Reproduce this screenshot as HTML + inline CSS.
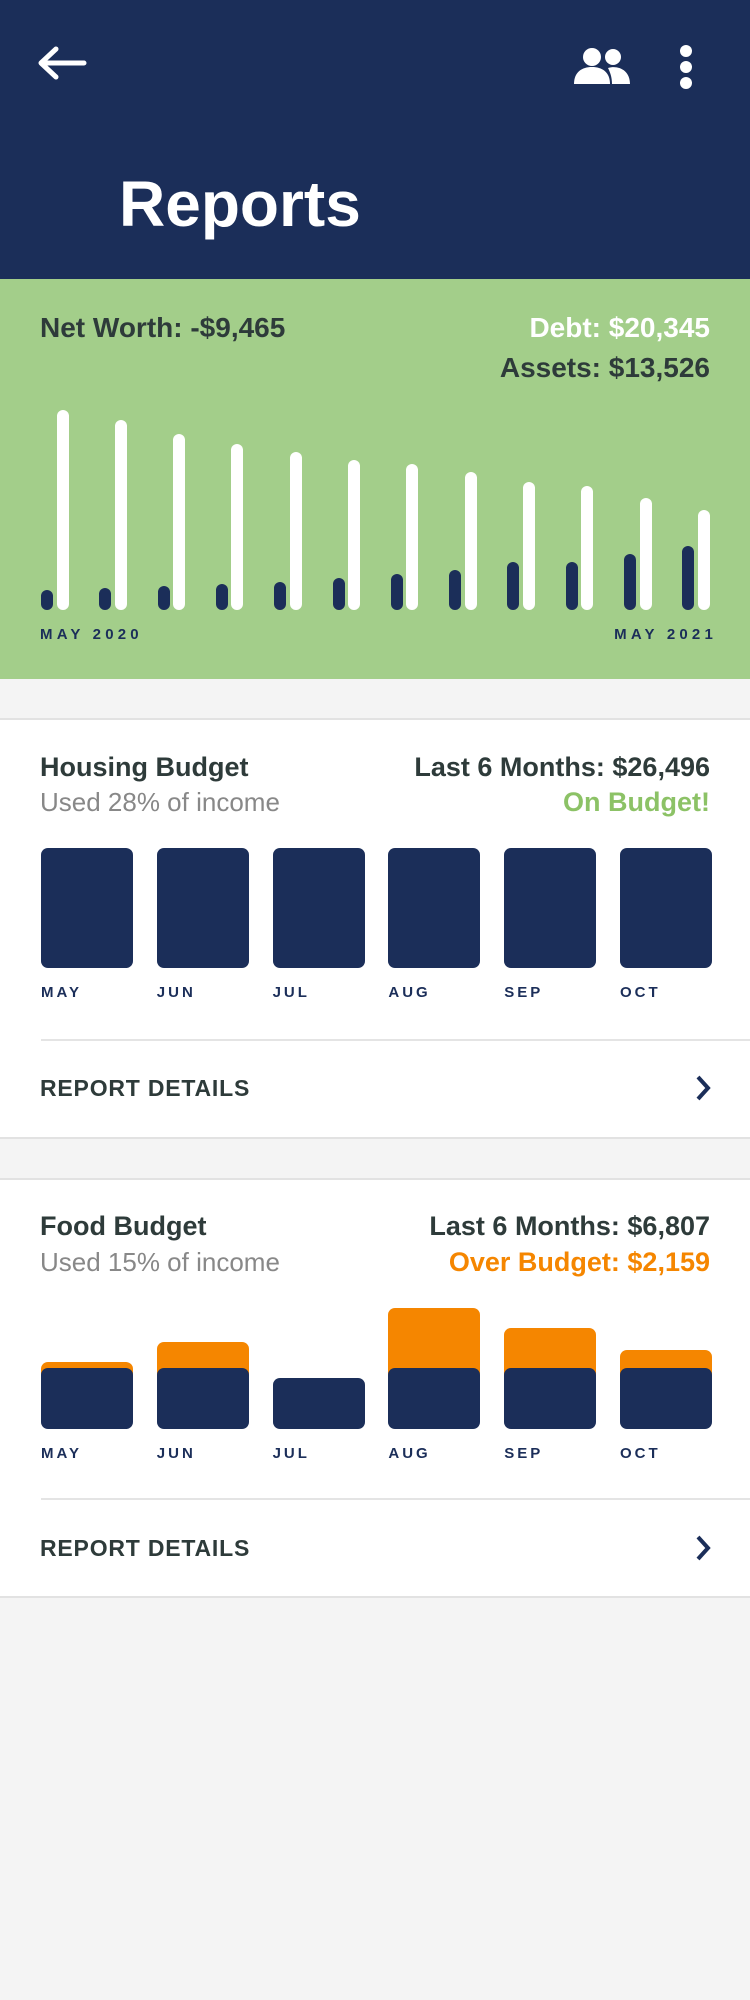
<!DOCTYPE html>
<html><head><meta charset="utf-8"><style>
*{margin:0;padding:0;box-sizing:border-box}
body{width:750px;height:2000px;background:#f4f4f4;position:relative;font-family:"Liberation Sans",sans-serif;overflow:hidden}
.a{position:absolute}
.hdr{left:0;top:0;width:750px;height:279px;background:#1b2e59}
.grn{left:0;top:279px;width:750px;height:400px;background:#a3ce8a}
.card{left:0;width:750px;background:#fff;border-top:2px solid #e2e2e2;border-bottom:2px solid #e2e2e2}
.t{white-space:nowrap;line-height:1}
.b{font-weight:bold}
.nv{background:#1b2e59}
.wh{background:#fff}
.pill{border-radius:6px;width:12px}
.mo{font-family:"Liberation Sans",sans-serif;font-weight:bold;font-size:15px;letter-spacing:3px;color:#1b2e59}
.bar{border-radius:7px;width:92px}
.or{background:#f58600}
</style></head><body>
<div class="a hdr"></div>
<svg class="a" style="left:36px;top:46px" width="52" height="34" viewBox="0 0 52 34"><path d="M48 17H6M20 3L5 17l15 14" stroke="#fff" stroke-width="5" fill="none" stroke-linecap="round" stroke-linejoin="round"/></svg>
<svg class="a" style="left:572px;top:46px" width="60" height="40" viewBox="0 0 60 40"><circle cx="20" cy="11" r="9" fill="#fff"/><circle cx="41" cy="11" r="8" fill="#fff"/><path d="M2 38c0-12 8-17 18-17s18 5 18 17z" fill="#fff"/><path d="M36 22c10-3 22 2 22 16H40c0-7-2-12-4-16z" fill="#fff"/></svg>
<div class="a" style="left:680px;top:45px;width:12px;height:12px;border-radius:6px;background:#fff"></div>
<div class="a" style="left:680px;top:61px;width:12px;height:12px;border-radius:6px;background:#fff"></div>
<div class="a" style="left:680px;top:77px;width:12px;height:12px;border-radius:6px;background:#fff"></div>
<div class="a t b" style="left:119px;top:172px;font-size:64px;color:#fff">Reports</div>

<div class="a grn"></div>
<div class="a t b" style="left:40px;top:314px;font-size:28px;color:#2e3b3a">Net Worth: -$9,465</div>
<div class="a t b" style="right:40px;top:314px;font-size:28px;color:#fff">Debt: $20,345</div>
<div class="a t b" style="right:40px;top:354px;font-size:28px;color:#2e3b3a">Assets: $13,526</div>
<div id="nw"></div>
<div class="a t mo" style="left:40px;top:627px;font-size:15px;letter-spacing:4.2px">MAY 2020</div>
<div class="a t mo" style="right:33px;top:627px;font-size:15px;letter-spacing:4.2px">MAY 2021</div>

<div class="a card" style="top:718px;height:421px"></div>
<div class="a t b" style="left:40px;top:754px;font-size:27px;color:#2e3b3a">Housing Budget</div>
<div class="a t" style="left:40px;top:789px;font-size:26px;color:#888">Used 28% of income</div>
<div class="a t b" style="right:40px;top:754px;font-size:27px;color:#2e3b3a">Last 6 Months: $26,496</div>
<div class="a t b" style="right:40px;top:789px;font-size:27px;color:#8cc266">On Budget!</div>
<div id="hb"></div>
<div class="a" style="left:41px;top:1039px;width:709px;height:2px;background:#e4e4e4"></div>
<div class="a t b" style="left:40px;top:1077px;font-size:23px;letter-spacing:0.8px;color:#2e3b3a">REPORT DETAILS</div>
<svg class="a" style="left:694px;top:1074px" width="18" height="28" viewBox="0 0 18 28"><path d="M4 3l10 11L4 25" stroke="#1b2e59" stroke-width="4" fill="none"/></svg>

<div class="a card" style="top:1178px;height:420px"></div>
<div class="a t b" style="left:40px;top:1213px;font-size:27px;color:#2e3b3a">Food Budget</div>
<div class="a t" style="left:40px;top:1249px;font-size:26px;color:#888">Used 15% of income</div>
<div class="a t b" style="right:40px;top:1213px;font-size:27px;color:#2e3b3a">Last 6 Months: $6,807</div>
<div class="a t b" style="right:40px;top:1249px;font-size:27px;color:#f58600">Over Budget: $2,159</div>
<div id="fb"></div>
<div class="a" style="left:41px;top:1498px;width:709px;height:2px;background:#e4e4e4"></div>
<div class="a t b" style="left:40px;top:1537px;font-size:23px;letter-spacing:0.8px;color:#2e3b3a">REPORT DETAILS</div>
<svg class="a" style="left:694px;top:1534px" width="18" height="28" viewBox="0 0 18 28"><path d="M4 3l10 11L4 25" stroke="#1b2e59" stroke-width="4" fill="none"/></svg>

<script>
var h='';
var wt=[410,420,434,444,452,460,464,472,482,486,498,510],dt=[590,588,586,584,582,578,574,570,562,562,554,546];
for(var i=0;i<12;i++){var x=41+i*58.3;
h+='<div class="a pill nv" style="left:'+x.toFixed(1)+'px;top:'+dt[i]+'px;height:'+(610-dt[i])+'px"></div>';
h+='<div class="a pill wh" style="left:'+(x+15.5).toFixed(1)+'px;top:'+wt[i]+'px;height:'+(610-wt[i])+'px"></div>';}
document.getElementById('nw').innerHTML=h;
var m=['MAY','JUN','JUL','AUG','SEP','OCT'];h='';
for(i=0;i<6;i++){var x=41+i*115.8;
h+='<div class="a bar nv" style="left:'+x+'px;top:848px;height:120px"></div>';
h+='<div class="a t mo" style="left:'+x+'px;top:985px">'+m[i]+'</div>';}
document.getElementById('hb').innerHTML=h;
var ot=[1362,1342,0,1308,1328,1350];h='';
for(i=0;i<6;i++){var x=41+i*115.8;
if(ot[i])h+='<div class="a bar or" style="left:'+x+'px;top:'+ot[i]+'px;height:'+(1400-ot[i])+'px"></div>';
var tp=i==2?1378:1368;
h+='<div class="a bar nv" style="left:'+x+'px;top:'+tp+'px;height:'+(1429-tp)+'px"></div>';
h+='<div class="a t mo" style="left:'+x+'px;top:1446px">'+m[i]+'</div>';}
document.getElementById('fb').innerHTML=h;
</script>
</body></html>
